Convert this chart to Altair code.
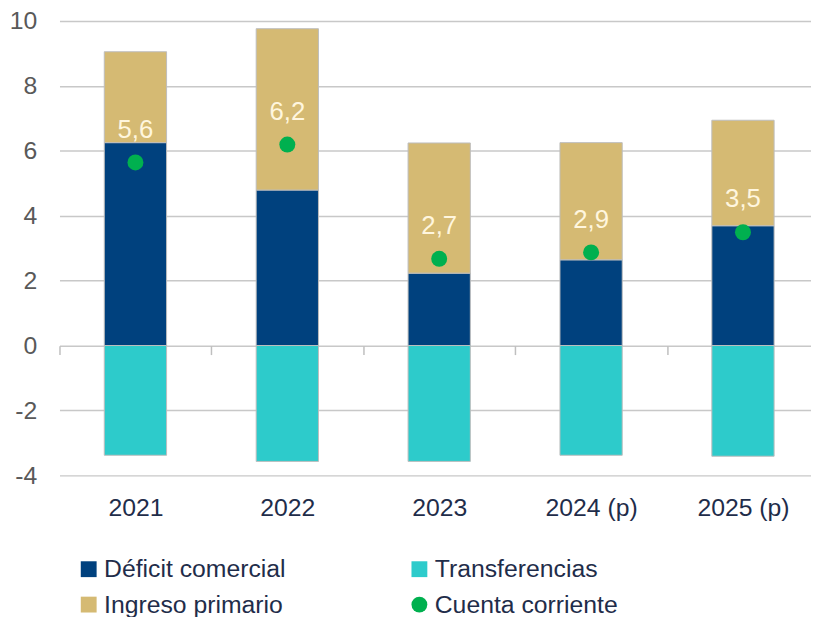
import altair as alt
import pandas as pd

years = ["2021", "2022", "2023", "2024 (p)", "2025 (p)"]
deficit = [6.25, 4.79, 2.23, 2.64, 3.69]
ingreso = [2.80, 4.97, 4.01, 3.61, 3.25]
transfer = [-3.38, -3.57, -3.57, -3.38, -3.41]
cuenta = [5.64, 6.19, 2.67, 2.87, 3.49]

series = ["Déficit comercial", "Ingreso primario", "Transferencias", "Cuenta corriente"]
colors = ["#00417E", "#D5BA73", "#2DCBCB", "#00B04F"]
shapes = ["square", "square", "square", "circle"]

rows = []
for i, y in enumerate(years):
    rows.append({"year": y, "serie": "Déficit comercial", "value": deficit[i], "ord": 1})
    rows.append({"year": y, "serie": "Ingreso primario", "value": ingreso[i], "ord": 2})
    rows.append({"year": y, "serie": "Transferencias", "value": transfer[i], "ord": 3})
bars_df = pd.DataFrame(rows)
cc_df = pd.DataFrame({"year": years, "serie": ["Cuenta corriente"] * len(years), "value": cuenta})

FONT = "Liberation Sans"
STEP = 767 / 5

x_enc = alt.X(
    "year:N",
    sort=years,
    title=None,
    scale=alt.Scale(range=[0, 767], paddingInner=0.59, paddingOuter=0.295),
    axis=alt.Axis(
        orient="bottom",
        offset=-131,
        domain=False,
        ticks=True,
        tickOffset=-STEP / 2,
        labelOffset=STEP / 2,
        tickSize=9,
        tickColor="#BFBFBF",
        tickWidth=1.5,
        labelPadding=143,
        labelFontSize=25,
        labelColor="#1F2D4A",
        labelFont=FONT,
        labelAngle=0,
        grid=False,
    ),
)

y_scale = alt.Scale(domain=[-4, 10], nice=False, zero=False)
y_axis = alt.Axis(
    values=[-4, -2, 0, 2, 4, 6, 8, 10],
    labelExpr="toString(datum.value)",
    domain=False,
    ticks=False,
    grid=True,
    gridColor="#C8C8C8",
    gridWidth=1.5,
    labelPadding=23,
    labelFontSize=25,
    labelColor="#595959",
    labelFont=FONT,
    title=None,
)

color_scale = alt.Scale(domain=series, range=colors)
shape_scale = alt.Scale(domain=series, range=shapes)
legend = alt.Legend(
    title=None,
    orient="none",
    legendX=17,
    legendY=541,
    columns=2,
    columnPadding=122,
    rowPadding=10,
    symbolSize=256,
    symbolStrokeWidth=0,
    symbolOffset=0,
    labelOffset=3,
    labelFontSize=25,
    labelFont=FONT,
    labelColor="#1F2D4A",
    labelLimit=500,
    padding=0,
)

bars = alt.Chart(bars_df).mark_bar(stroke="#BDBDBD", strokeWidth=1).encode(
    x=x_enc,
    y=alt.Y("value:Q", scale=y_scale, axis=y_axis, stack="zero"),
    color=alt.Color("serie:N", scale=color_scale, legend=legend),
    order=alt.Order("ord:Q"),
)

points = alt.Chart(cc_df).mark_point(filled=True, opacity=1, size=260).encode(
    x=alt.X("year:N", sort=years),
    y=alt.Y("value:Q"),
    color=alt.Color("serie:N", scale=color_scale, legend=legend),
    shape=alt.Shape("serie:N", scale=shape_scale, legend=legend),
)

labels = alt.Chart(cc_df).transform_calculate(
    lab="replace(format(datum.value, '.1f'), '.', ',')"
).mark_text(dy=-33, fontSize=26, font=FONT, color="#FFF6DE").encode(
    x=alt.X("year:N", sort=years),
    y=alt.Y("value:Q"),
    text="lab:N",
)

chart = alt.layer(bars, points, labels).properties(
    width=759,
    height=459,
    autosize=alt.AutoSizeParams(type="none"),
    padding={"left": 52, "top": 10, "right": 0, "bottom": 140},
).configure_view(stroke=None)

chart.save("out.html", embed_options={"renderer": "svg", "actions": False})
